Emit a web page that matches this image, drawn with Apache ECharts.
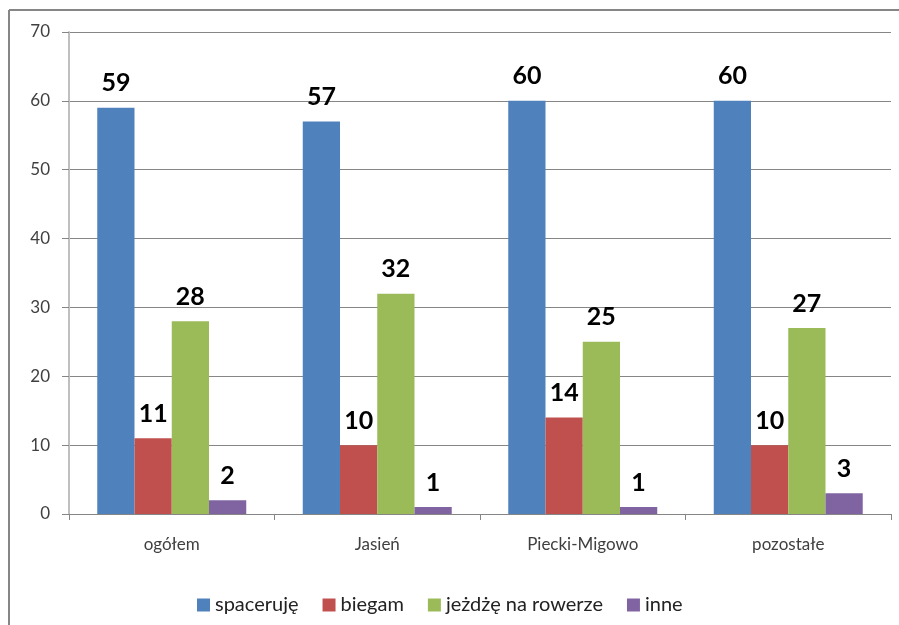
<!DOCTYPE html>
<html>
<head>
<meta charset="utf-8">
<script src="https://cdn.jsdelivr.net/npm/echarts@6/dist/echarts.min.js"></script>
<style>html,body{margin:0;padding:0;background:#fff;}#c{width:899px;height:625px;}</style>
</head>
<body>
<div id="c"></div>
<script>
const categories = ['ogółem', 'Jasień', 'Piecki-Migowo', 'pozostałe'];
const spaceruje = [59, 57, 60, 60];
const biegam = [11, 10, 14, 10];
const rower = [28, 32, 25, 27];
const inne = [2, 1, 1, 3];
const seriesNames = ['spaceruję', 'biegam', 'jeżdżę na rowerze', 'inne'];
const colors = ['#4F81BD', '#C0504D', '#9BBB59', '#8064A2'];
const yTicks = [0, 10, 20, 30, 40, 50, 60, 70];

const FONT = 'Lato, "Open Sans", sans-serif';
const chart = echarts.init(document.getElementById('c'));
const mk = (name, data, i) => ({
  name, type: 'bar', data, barGap: 0, barCategoryGap: '27.5%',
  itemStyle: { color: colors[i] },
  label: { show: true, position: 'top', distance: 12, color: '#000', fontWeight: 'bold', fontSize: 25, fontFamily: FONT }
});
chart.setOption({
  animation: false,
  backgroundColor: '#fff',
  textStyle: { fontFamily: FONT },
  grid: { left: 69, right: 8, top: 32, bottom: 111, containLabel: false },
  legend: {
    data: seriesNames, top: 590, left: 192, itemWidth: 13, itemHeight: 13, itemGap: 24,
    icon: 'rect', textStyle: { fontSize: 20, color: '#222', fontFamily: FONT }
  },
  xAxis: {
    type: 'category', data: categories,
    axisLine: { lineStyle: { color: '#868686', width: 1 } },
    axisTick: { show: true, length: 6, lineStyle: { color: '#868686' } },
    axisLabel: { margin: 22, fontSize: 17, color: '#404040', fontFamily: FONT }
  },
  yAxis: {
    type: 'value', min: yTicks[0], max: yTicks[yTicks.length - 1], interval: 10,
    axisLine: { show: true, lineStyle: { color: '#bfbfbf', width: 2 } },
    axisTick: { show: true, length: 7, lineStyle: { color: '#868686' } },
    splitLine: { lineStyle: { color: '#868686', width: 1 } },
    axisLabel: { margin: 19, fontSize: 17, color: '#404040', fontFamily: FONT }
  },
  graphic: [
    { type: 'line', shape: { x1: 9, y1: 10, x2: 899, y2: 10 }, style: { stroke: '#868686', lineWidth: 2 } },
    { type: 'line', shape: { x1: 9, y1: 10, x2: 9, y2: 625 }, style: { stroke: '#868686', lineWidth: 2 } }
  ],
  series: [mk(seriesNames[0], spaceruje, 0), mk(seriesNames[1], biegam, 1), mk(seriesNames[2], rower, 2), mk(seriesNames[3], inne, 3)]
});
</script>
</body>
</html>
